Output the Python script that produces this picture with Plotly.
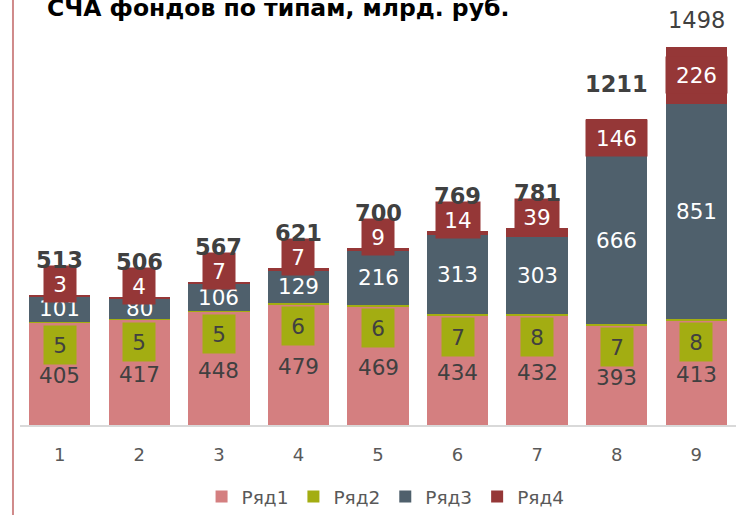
import plotly.graph_objects as go

categories = ["1", "2", "3", "4", "5", "6", "7", "8", "9"]
ryad1 = [405, 417, 448, 479, 469, 434, 432, 393, 413]
ryad2 = [5, 5, 5, 6, 6, 7, 8, 7, 8]
ryad3 = [101, 80, 106, 129, 216, 313, 303, 666, 851]
ryad4 = [3, 4, 7, 7, 9, 14, 39, 146, 226]
totals = [513, 506, 567, 621, 700, 769, 781, 1211, 1498]
series_names = ["Ряд1", "Ряд2", "Ряд3", "Ряд4"]
title_text = "СЧА фондов по типам, млрд. руб."

colors = ["#D47F80", "#A3AD12", "#4F606C", "#953737"]
FONT = "DejaVu Sans, Verdana, sans-serif"
TXT = "#404040"

xpos = list(range(len(categories)))

fig = go.Figure()
for name, vals, col in zip(series_names, [ryad1, ryad2, ryad3, ryad4], colors):
    fig.add_trace(go.Bar(x=xpos, y=vals, name=name, marker_color=col,
                         marker_line_width=0, hoverinfo="skip"))

ann = []
for i, c in enumerate(xpos):
    b1 = ryad1[i]
    b2 = b1 + ryad2[i]
    b3 = b2 + ryad3[i]
    b4 = b3 + ryad4[i]
    # Ряд1
    ann.append(dict(x=c, y=b1 / 2, text=str(ryad1[i]), showarrow=False, yshift=-2,
                    font=dict(family=FONT, size=21.5, color=TXT)))
    # Ряд2 callout box
    ann.append(dict(x=c, y=b2, text=str(ryad2[i]), showarrow=False, yshift=-23,
                    width=30, height=36, bgcolor=colors[1],
                    font=dict(family=FONT, size=21.5, color=TXT)))
    # Ряд3
    ann.append(dict(x=c, y=b2 + ryad3[i] / 2, text=str(ryad3[i]), showarrow=False,
                    font=dict(family=FONT, size=21.5, color="white")))
    # Ряд4
    s4 = str(ryad4[i])
    w4 = 30 if len(s4) == 1 else (42 if len(s4) == 2 else 59)
    if ryad4[i] < 100:
        y4, sh4 = b4, 11
    else:
        y4, sh4 = b3 + ryad4[i] / 2, 0
    ann.append(dict(x=c, y=y4, text=s4, showarrow=False, yshift=sh4,
                    width=w4, height=34, bgcolor=colors[3],
                    font=dict(family=FONT, size=21.5, color="white")))
    # total
    last = i == len(categories) - 1
    ann.append(dict(x=c, y=b4, text=(str(totals[i]) if last else "<b>%d</b>" % totals[i]),
                    showarrow=False, yshift=(27 if last else 35),
                    font=dict(family=FONT, size=22.5, color=TXT)))

ann.append(dict(xref="paper", yref="paper", x=0.035, y=0.943, xanchor="left", yanchor="bottom",
                text="<b>%s</b>" % title_text, showarrow=False,
                font=dict(family=FONT, size=23.5, color="black")))

fig.update_layout(
    width=756, height=515,
    margin=dict(l=20, r=20, t=0, b=90),
    barmode="stack", bargap=0.23,
    plot_bgcolor="white", paper_bgcolor="white",
    font=dict(family=FONT, color="#595959"),
    xaxis=dict(range=[-0.5, 8.5], tickvals=xpos, ticktext=categories, showgrid=False,
               zeroline=False, showline=True, linecolor="#D9D9D9", linewidth=2, ticks="",
               ticklabelstandoff=12, tickfont=dict(size=18, color="#595959")),
    yaxis=dict(range=[0, 1684], visible=False),
    legend=dict(orientation="h", x=0.51, xanchor="center", xref="container",
                y=0.035, yanchor="middle", yref="container",
                font=dict(size=18.5, color="#595959"), traceorder="normal"),
    annotations=ann,
    shapes=[dict(type="line", xref="paper", yref="paper", x0=-0.0098, x1=-0.0098,
                 y0=-0.3, y1=1.05, line=dict(color="#D08A8A", width=2))],
    showlegend=True,
)

fig.write_html("out.html", config={"displayModeBar": False},
               post_script="document.body.style.margin='0';")
